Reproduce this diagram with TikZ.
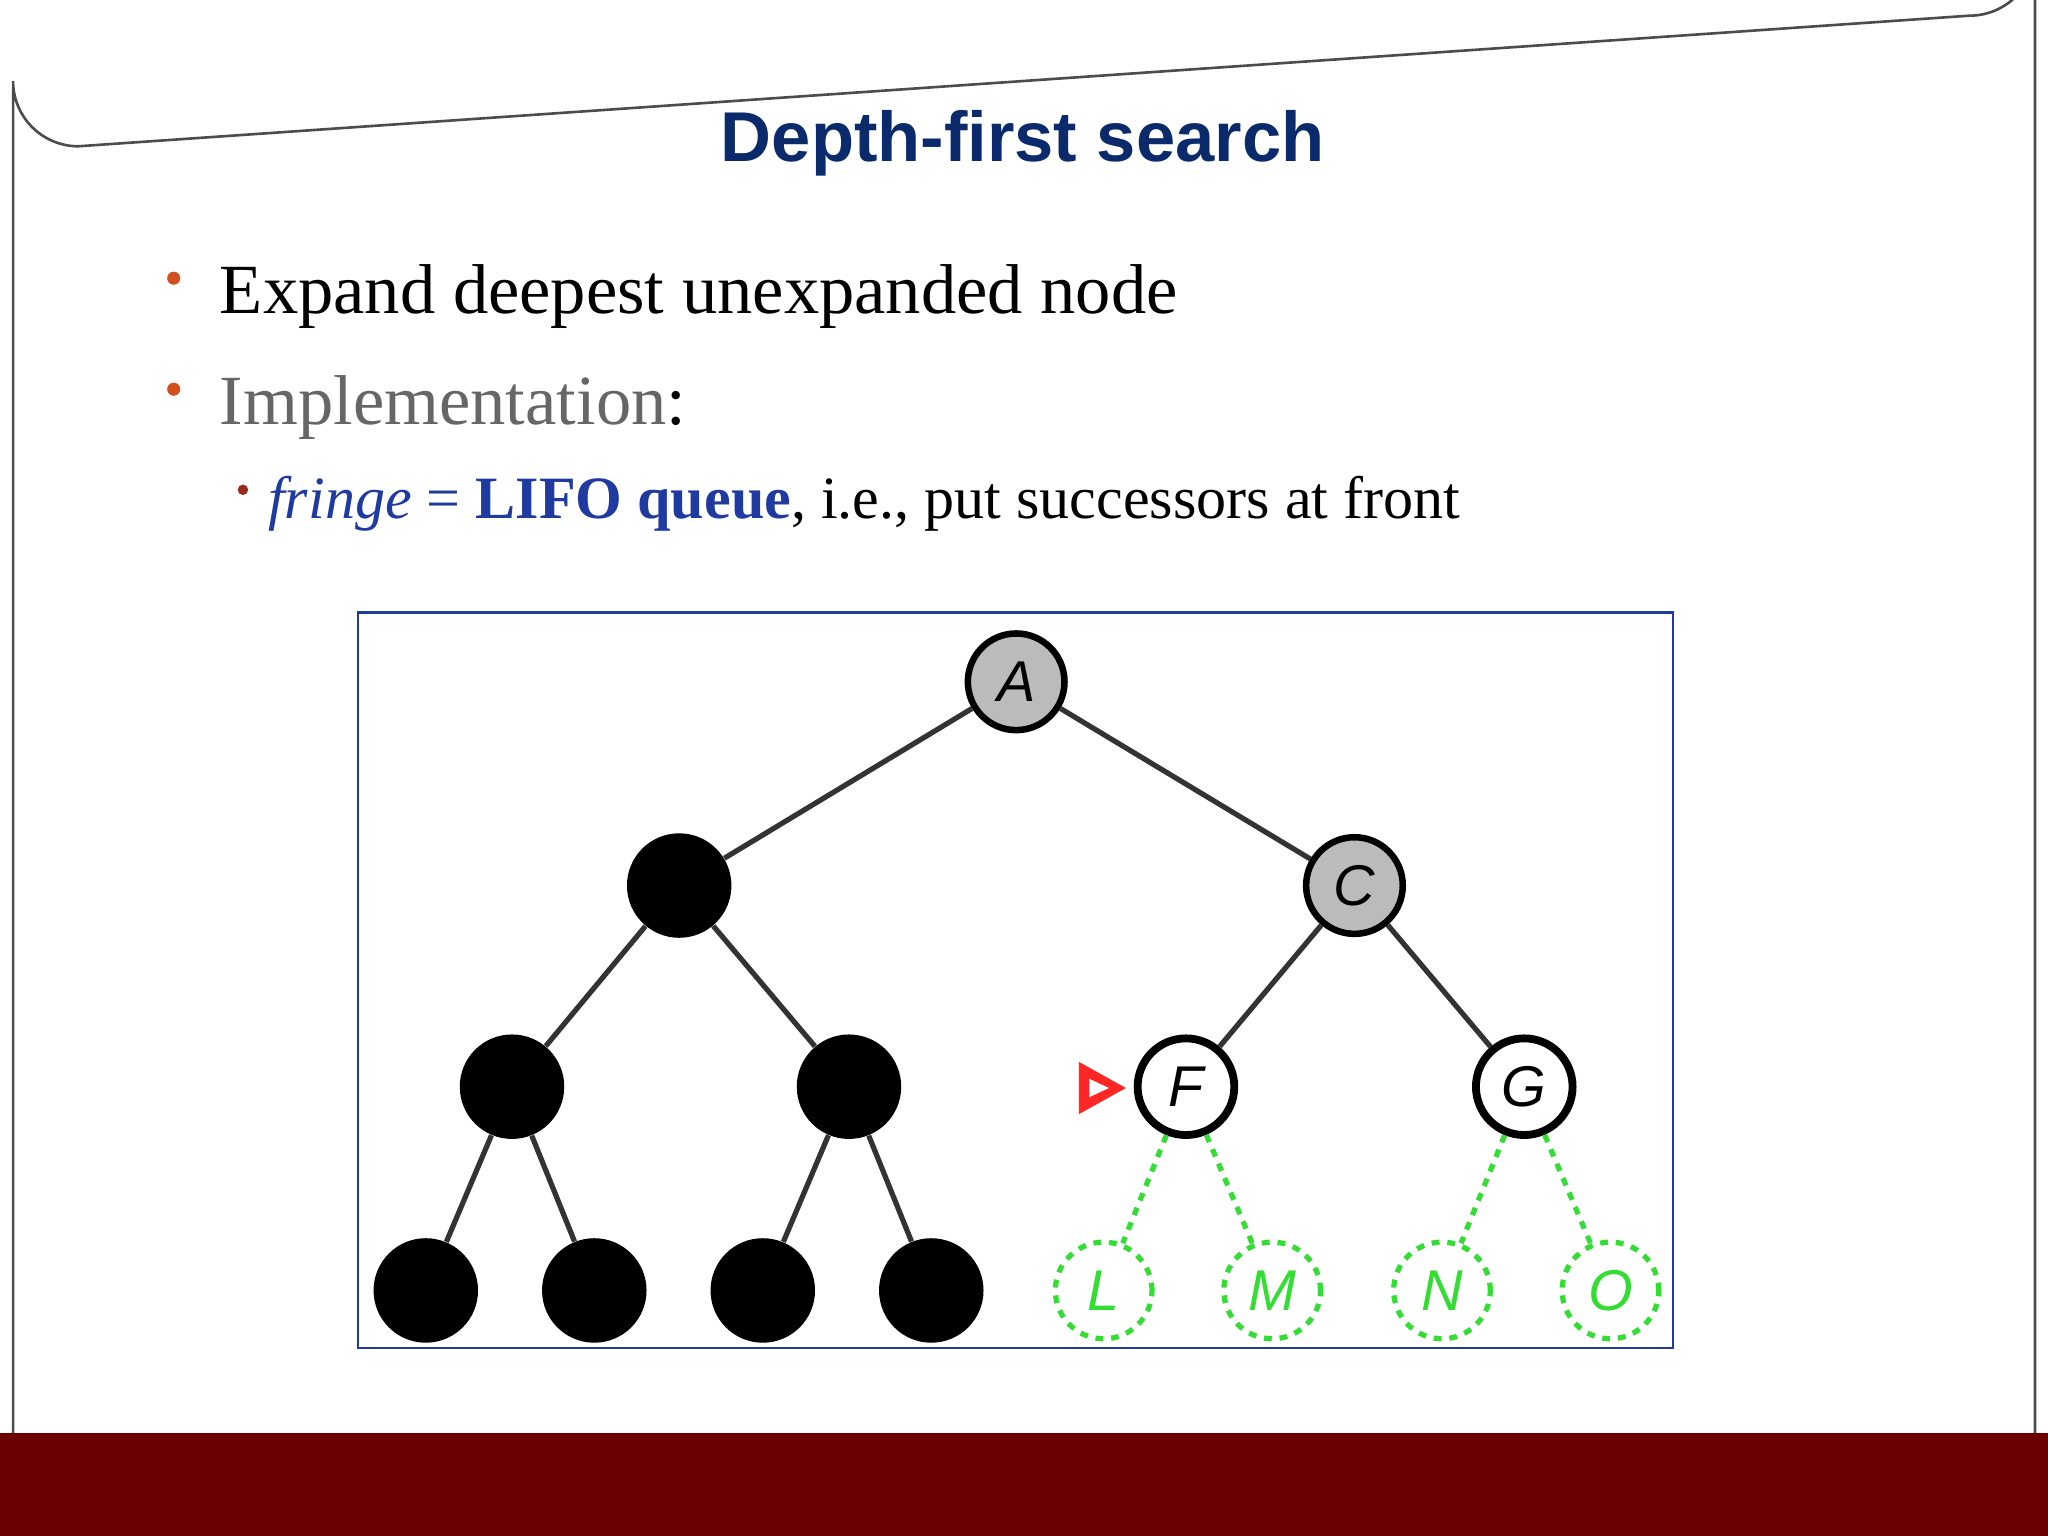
\documentclass[tikz,border=0pt]{standalone}
\usepackage{fontspec}
\setmainfont{Liberation Serif}
\setsansfont{Liberation Sans}
\definecolor{ttl}{HTML}{0B2A6B}
\definecolor{band}{HTML}{6B0000}
\definecolor{bul}{HTML}{D2501E}
\definecolor{sbul}{HTML}{9B2A1E}
\definecolor{fr}{HTML}{1F3AA0}
\definecolor{ng}{HTML}{BBBBBB}
\definecolor{gr}{HTML}{33DD33}
\begin{document}
\begin{tikzpicture}[x=0.5pt,y=-0.5pt,
 nd/.style={circle,minimum size=74*0.5pt,inner sep=0pt,font=\sffamily\itshape\fontsize{22}{22}\selectfont},
 blk/.style={nd,fill=black,minimum size=80*0.5pt},
 gry/.style={nd,fill=ng,draw=black,line width=2.5pt},
 wht/.style={nd,fill=white,draw=black,line width=3pt},
 grn/.style={nd,draw=gr,dashed,line width=2pt,text=gr},
 ed/.style={line width=2pt,black!80},
 ged/.style={line width=2pt,gr,dashed}]
\useasboundingbox (0,0) rectangle (1568,1176);
\fill[white] (0,0) rectangle (1568,1176);
\draw[black!70,line width=1pt] (10,1176) -- (10,62) arc[start angle=180,end angle=90,radius=50] -- (1508,12) arc[start angle=90,end angle=0,radius=50] -- (1558,1176);
\fill[band] (0,1097) rectangle (1568,1176);
\node[font=\sffamily\bfseries\fontsize{27}{27}\selectfont,text=ttl] (title) at (783,110) {Depth-first search};
\fill[bul] (133,213) circle (5);
\node[anchor=base west,inner sep=0pt,font=\fontsize{27}{27}\selectfont] (b1) at (168,240) {Expand deepest unexpanded node};
\fill[bul] (133,298) circle (5);
\node[anchor=base west,inner sep=0pt,font=\fontsize{27}{27}\selectfont] (b2) at (168,325) {\textcolor{black!60}{Implementation}:};
\fill[sbul] (186,375) circle (4);
\node[anchor=base west,inner sep=0pt,font=\fontsize{23}{23}\selectfont] (b3) at (205,397) {\textcolor{fr}{\textit{fringe} = \textbf{LIFO queue}}, i.e., put successors at front};
\draw[fr,line width=1pt] (274,469) rectangle (1281,1032);
\node[gry] (A) at (778,522) {A};
\node[blk] (B) at (520,678) {};
\node[gry] (C) at (1037,678) {C};
\node[blk] (D) at (392,832) {};
\node[blk] (E) at (650,832) {};
\node[wht] (F) at (908,832) {F};
\node[wht] (G) at (1167,832) {G};
\node[blk] (H) at (326,988) {};
\node[blk] (I) at (455,988) {};
\node[blk] (J) at (584,988) {};
\node[blk] (K) at (713,988) {};
\node[grn] (L) at (845,988) {L};
\node[grn] (M) at (974,988) {M};
\node[grn] (N) at (1104,988) {N};
\node[grn] (O) at (1233,988) {O};
\foreach \a/\b in {A/B,A/C,B/D,B/E,C/F,C/G,D/H,D/I,E/J,E/K} \draw[ed] (\a) -- (\b);
\foreach \a/\b in {F/L,F/M,G/N,G/O} \draw[ged] (\a) -- (\b);
\fill[red!85] (826,813) -- (862,833) -- (826,853) -- cycle;
\fill[white] (834,826) -- (849,833) -- (834,840) -- cycle;
\end{tikzpicture}
\end{document}
